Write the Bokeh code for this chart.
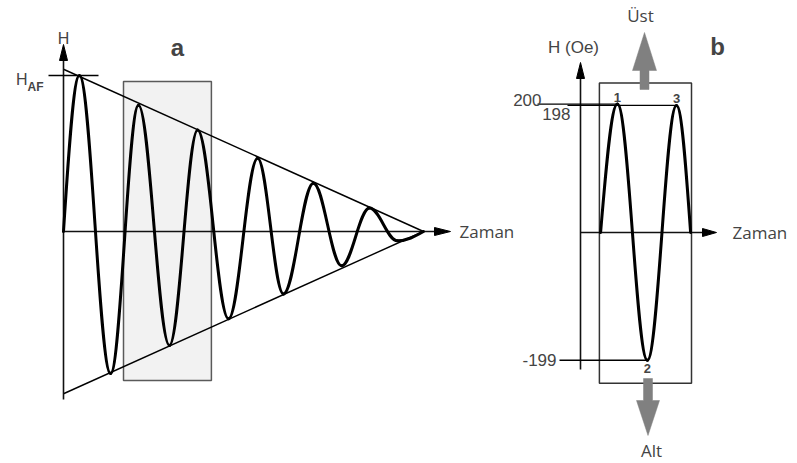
from bokeh.plotting import figure
from bokeh.models import Range1d, Label
from bokeh.embed import file_html
from bokeh.resources import INLINE

# ---------------- data ----------------
# panel a: decaying alternating field; time in half-cycles, field relative to H_AF
a_time = [0.0, 0.53, 1.57, 2.50, 3.53, 4.47, 5.50, 6.47, 7.33, 8.33, 9.27, 10.20, 11.13, 12.00]
a_field = [0.0, 1.00, -0.91, 0.81, -0.73, 0.65, -0.56, 0.47, -0.40, 0.31, -0.22, 0.15, -0.06, 0.0]
a_env_time = [0.0, 12.0]
a_env_upper = [1.04, 0.0]
a_env_lower = [-1.04, 0.0]
a_window_time = [2.0, 4.93]
a_window_field = [-0.955, 0.962]
a_haf = 1.0

# panel b: the three extremes inside the window, field in Oe
b_time = [0.67, 1.23, 2.23, 3.20, 3.67]
b_field = [0, 200, -199, 198, 0]
b_peak_names = ["1", "2", "3"]
b_level_names = ["200", "-199", "198"]
b_window_time = [0.63, 3.70]
b_window_field = [-235, 233]

# ---------------- geometry (pixel anchors) ----------------
W, H = 797, 463
AX0, AY0, ASX, ASY = 63.0, 231.0, 30.0, 156.0
BX0, BY0, BSX, BSY = 580.0, 232.0, 30.0, 0.642


def ax(px):
    return (px - AX0) / ASX


def ay(py):
    return (AY0 - py) / ASY


def bx(px):
    return (px - BX0) / BSX


def by(py):
    return (BY0 - py) / BSY


p = figure(width=W, height=H, output_backend="svg", toolbar_location=None,
           x_range=Range1d(ax(0), ax(W)), y_range=Range1d(ay(H), ay(0)),
           x_axis_location=None, y_axis_location=None, min_border=0)
p.extra_x_ranges = {"xb": Range1d(bx(0), bx(W))}
p.extra_y_ranges = {"yb": Range1d(by(H), by(0))}
p.grid.visible = False
p.outline_line_color = None
p.background_fill_color = "white"
p.border_fill_color = "white"

B = dict(x_range_name="xb", y_range_name="yb")


def wave(ts, vs, **kw):
    d = dict(x0=[], y0=[], x1=[], y1=[], cx0=[], cy0=[], cx1=[], cy1=[])
    n = len(ts)
    for i in range(n - 1):
        xa, ya, xb_, yb_ = ts[i], vs[i], ts[i + 1], vs[i + 1]
        dx = xb_ - xa
        if i == 0 and ya == 0:
            c0 = (xa + 0.33 * dx, ya + 0.518 * (yb_ - ya))
            c1 = (xb_ - 0.361 * dx, yb_)
        elif i == n - 2 and yb_ == 0:
            c0 = (xa + 0.361 * dx, ya)
            c1 = (xb_ - 0.33 * dx, yb_ + 0.518 * (ya - yb_))
        else:
            c0 = (xa + 0.364 * dx, ya)
            c1 = (xb_ - 0.364 * dx, yb_)
        d["x0"].append(xa); d["y0"].append(ya)
        d["x1"].append(xb_); d["y1"].append(yb_)
        d["cx0"].append(c0[0]); d["cy0"].append(c0[1])
        d["cx1"].append(c1[0]); d["cy1"].append(c1[1])
    p.bezier(**d, line_color="black", line_width=3, line_cap="round", **kw)


# ---------------- panel a ----------------
p.quad(left=[a_window_time[0]], right=[a_window_time[1]],
       bottom=[a_window_field[0]], top=[a_window_field[1]],
       fill_color="#f2f2f2", line_color="#5a5a5a", line_width=1.5)

p.line(a_env_time, a_env_upper, line_color="black", line_width=1.4)
p.line(a_env_time, a_env_lower, line_color="black", line_width=1.4)

# axes with arrow heads
p.segment(x0=[0, 0], y0=[ay(399), 0], x1=[0, ax(435)], y1=[ay(59), 0],
          line_color="#111111", line_width=1.6)
p.patches(xs=[[ax(59), ax(63), ax(67)], [ax(434), ax(450), ax(434)]],
          ys=[[ay(60), ay(44), ay(60)], [ay(227), 0, ay(235)]],
          fill_color="black", line_color="black", line_width=1)

# H_AF tick
p.segment(x0=[ax(48)], y0=[a_haf], x1=[ax(98)], y1=[a_haf], line_color="black", line_width=1.3)

wave(a_time, a_field)

SANS = "Liberation Sans"
p.add_layout(Label(x=0, y=ay(38), text="H", text_font=SANS, text_font_size="16px",
                   text_align="center", text_baseline="alphabetic"))
p.add_layout(Label(x=ax(27), y=a_haf, y_offset=-4, text="H", text_font=SANS, text_font_size="16px",
                   text_align="right", text_baseline="alphabetic"))
p.add_layout(Label(x=ax(27), y=a_haf, y_offset=-11, text="AF", text_font=SANS, text_font_size="12px",
                   text_font_style="bold", text_align="left", text_baseline="alphabetic"))
p.add_layout(Label(x=ax(177), y=ay(47), text="a", text_font=SANS, text_font_size="24px",
                   text_font_style="bold", text_align="center", text_baseline="alphabetic"))
p.add_layout(Label(x=ax(459), y=0, text="Zaman", text_font="Open Sans", text_font_size="17px",
                   text_align="left", text_baseline="middle"))

# ---------------- panel b ----------------
p.quad(left=[b_window_time[0]], right=[b_window_time[1]],
       bottom=[b_window_field[0]], top=[b_window_field[1]],
       fill_color=None, line_color="#333333", line_width=1.5, **B)

p.segment(x0=[0, 0], y0=[by(369), 0], x1=[0, bx(703)], y1=[by(77), 0],
          line_color="#111111", line_width=1.6, **B)
p.patches(xs=[[bx(576), bx(580), bx(584)], [bx(702), bx(716), bx(702)]],
          ys=[[by(78), by(62), by(78)], [by(228), 0, by(236)]],
          fill_color="black", line_color="black", line_width=1, **B)

# level lines to the extremes
ext_t = b_time[1:4]
ext_v = b_field[1:4]
line_start_px = [537, 559, 567]
p.segment(x0=[bx(v) for v in line_start_px], y0=ext_v, x1=ext_t, y1=ext_v,
          line_color="black", line_width=1.3, **B)

wave(b_time, b_field, **B)

# gray block arrows (Üst / Alt)
up = [(639.5, 89), (648.5, 89), (648.5, 70), (656, 70), (644, 32), (632, 70), (639.5, 70)]
dn = [(643, 378), (652, 378), (652, 400), (659, 400), (647.5, 435), (636, 400), (643, 400)]
p.patches(xs=[[bx(a) for a, _ in up], [bx(a) for a, _ in dn]],
          ys=[[by(b) for _, b in up], [by(b) for _, b in dn]],
          fill_color="#808080", line_color="#808080", line_width=0.5, **B)

# level labels
p.add_layout(Label(x=bx(541), y=ext_v[0], y_offset=4, text=b_level_names[0], text_font=SANS,
                   text_font_size="17px", text_align="right", text_baseline="alphabetic", **B))
p.add_layout(Label(x=bx(556), y=ext_v[1], text=b_level_names[1], text_font=SANS,
                   text_font_size="17px", text_align="right", text_baseline="middle", **B))
p.add_layout(Label(x=bx(570), y=ext_v[2], y_offset=-3, text=b_level_names[2], text_font=SANS,
                   text_font_size="17px", text_align="right", text_baseline="top", **B))

# peak numbers
p.add_layout(Label(x=ext_t[0], y=ext_v[0], y_offset=7, text=b_peak_names[0], text_font=SANS,
                   text_font_size="13px", text_font_style="bold", text_align="center",
                   text_baseline="alphabetic", **B))
p.add_layout(Label(x=ext_t[1], y=ext_v[1], y_offset=-4, text=b_peak_names[1], text_font=SANS,
                   text_font_size="13px", text_font_style="bold", text_align="center",
                   text_baseline="top", **B))
p.add_layout(Label(x=ext_t[2], y=ext_v[2], y_offset=7, text=b_peak_names[2], text_font=SANS,
                   text_font_size="13px", text_font_style="bold", text_align="center",
                   text_baseline="alphabetic", **B))

p.add_layout(Label(x=bx(573), y=by(47), text="H (Oe)", text_font=SANS, text_font_size="17px",
                   text_align="center", text_baseline="middle", **B))
p.add_layout(Label(x=bx(717), y=by(46), text="b", text_font=SANS, text_font_size="24px",
                   text_font_style="bold", text_align="center", text_baseline="alphabetic", **B))
p.add_layout(Label(x=bx(732), y=0, text="Zaman", text_font="Open Sans", text_font_size="17px",
                   text_align="left", text_baseline="middle", **B))
p.add_layout(Label(x=bx(640), y=by(15), text="Üst", text_font="Open Sans", text_font_size="17px",
                   text_align="center", text_baseline="middle", **B))
p.add_layout(Label(x=bx(651), y=by(450), text="Alt", text_font="Open Sans", text_font_size="17px",
                   text_align="center", text_baseline="middle", **B))

open("out.html", "w").write(file_html(p, INLINE))
